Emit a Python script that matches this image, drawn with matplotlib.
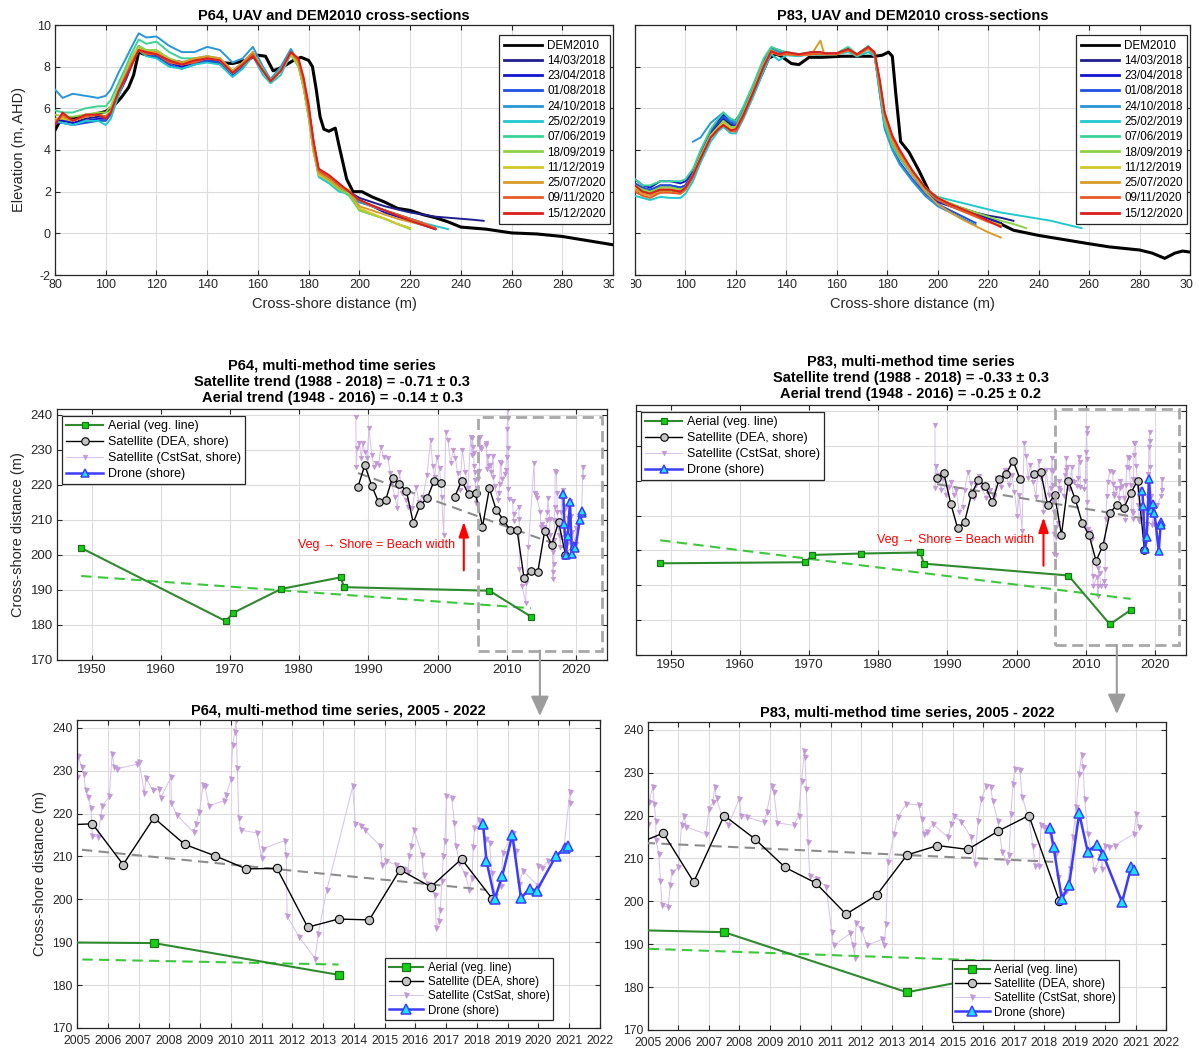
import numpy as np
import matplotlib
matplotlib.use('Agg')
import matplotlib.pyplot as plt
from matplotlib.patches import Rectangle, FancyArrowPatch

plt.rcParams['font.family'] = ['Liberation Sans', 'DejaVu Sans']
plt.rcParams['axes.unicode_minus'] = False

# ======================= DATA =======================
uav_dates = ['14/03/2018', '23/04/2018', '01/08/2018', '24/10/2018', '25/02/2019',
             '07/06/2019', '18/09/2019', '11/12/2019', '25/07/2020', '09/11/2020', '15/12/2020']
uav_colors = ['#1f1f8f', '#1414d2', '#2050e0', '#2896d8', '#20c8d0', '#3cd296',
              '#8cd246', '#d2c828', '#d89b28', '#e85a28', '#dc1e1e']

# ---- P64 profiles ----
p64_dem_x = [80, 82, 85, 90, 95, 100, 103, 106, 109, 111, 113, 115, 120, 125, 130, 140, 150, 155, 160, 163,
             166, 170, 174, 177, 180, 181.5, 183, 184.5, 186, 188, 190.5, 192, 195, 197.5, 201, 205, 210, 215,
             220, 225, 230, 235, 240, 250, 260, 270, 280, 290, 300]
p64_dem_y = [4.95, 5.4, 5.5, 5.6, 5.7, 5.85, 6.1, 6.5, 7.0, 7.6, 8.7, 8.6, 8.45, 8.3, 8.2, 8.25, 8.15, 8.3, 8.55, 8.5,
             7.8, 8.0, 8.3, 8.45, 8.3, 8.0, 6.9, 5.6, 5.0, 4.9, 5.05, 4.2, 2.6, 2.0, 2.0, 1.75, 1.5, 1.2,
             1.1, 0.9, 0.75, 0.55, 0.3, 0.2, 0.02, -0.03, -0.15, -0.35, -0.55]
p64_uav_x = [80, 83, 87, 92, 97, 100, 102, 105, 108, 110, 113, 116, 120, 125, 130, 135, 140, 145, 150, 154,
             158, 162, 165, 169, 173, 176, 178, 180, 182, 184, 188, 192, 196, 200, 205, 210, 215, 220, 225, 230,
             235, 240, 245, 249]
p64_20180314 = [5.5, 5.5, 5.3, 5.5, 5.6, 5.6, 5.9, 6.7, 7.4, 8.0, 8.9, 8.6, 8.5, 8.2, 8.0, 8.2, 8.3, 8.2, 7.7, 8.1,
                8.6, 7.9, 7.3, 7.9, 8.6, 8.2, 7.3, 6.0, 4.3, 3.0, 2.7, 2.3, 2.0, 1.7, 1.5, 1.3, 1.15, 1.0, 0.9, 0.8,
                0.75, 0.7, 0.65, 0.6]
p64_20180423 = [5.4, 5.4, 5.3, 5.4, 5.5, 5.5, 5.8, 6.7, 7.5, 8.2, 9.0, 8.7, 8.5, 8.2, 8.0, 8.2, 8.3, 8.2, 7.6, 8.0,
                8.6, 7.8, 7.3, 7.8, 8.6, 8.1, 7.2, 5.8, 4.1, 2.9, 2.6, 2.2, 1.9, 1.6, 1.3, 1.0, 0.8, 0.6, 0.4, 0.2]
p64_20180801 = [5.3, 5.3, 5.2, 5.3, 5.4, 5.4, 5.7, 6.6, 7.4, 8.1, 8.8, 8.6, 8.5, 8.1, 7.9, 8.1, 8.3, 8.2, 7.6, 8.0,
                8.6, 7.8, 7.3, 7.8, 8.6, 8.1, 7.1, 5.7, 4.0, 2.8, 2.5, 2.1, 1.9, 1.5, 1.3, 1.1, 0.9, 0.7, 0.5]
p64_20181024 = [6.9, 6.5, 6.7, 6.6, 6.5, 6.6, 6.9, 7.7, 8.4, 8.9, 9.6, 9.4, 9.45, 9.0, 8.7, 8.7, 8.95, 8.8, 8.2, 8.4,
                8.95, 8.0, 7.4, 8.0, 8.85, 8.2, 7.2, 5.8, 4.0, 2.8, 2.5, 2.1, 1.9, 1.5, 1.3, 1.1, 0.9, 0.7, 0.5]
p64_20190225 = [5.4, 5.3, 5.2, 5.4, 5.4, 5.2, 5.5, 6.6, 7.6, 8.2, 8.8, 8.5, 8.4, 8.0, 7.9, 8.1, 8.2, 8.1, 7.5, 7.9,
                8.5, 7.6, 7.2, 7.6, 8.6, 8.0, 7.0, 5.6, 3.9, 2.7, 2.4, 2.0, 1.9, 1.6, 1.3, 1.1, 0.9, 0.7, 0.5, 0.35,
                0.2]
p64_20190607 = [5.9, 5.8, 5.8, 6.0, 6.1, 6.1, 6.4, 7.2, 8.0, 8.6, 9.3, 9.1, 9.2, 8.7, 8.4, 8.4, 8.5, 8.4, 7.8, 8.2,
                8.7, 7.9, 7.3, 7.9, 8.6, 8.1, 7.0, 5.6, 3.9, 2.8, 2.5, 2.1, 1.8, 1.1, 0.9, 0.7, 0.45, 0.25]
p64_20190918 = [5.7, 5.6, 5.6, 5.7, 5.8, 5.8, 6.1, 7.0, 7.8, 8.4, 9.0, 8.8, 8.8, 8.4, 8.2, 8.3, 8.5, 8.3, 7.7, 8.1,
                8.6, 7.8, 7.3, 7.8, 8.6, 8.0, 7.0, 5.6, 3.9, 2.8, 2.5, 2.1, 1.9, 1.1, 0.9, 0.7, 0.45, 0.2]
p64_20191211 = [5.5, 5.5, 5.4, 5.6, 5.7, 5.6, 5.9, 6.9, 7.7, 8.3, 8.9, 8.7, 8.7, 8.3, 8.1, 8.3, 8.5, 8.3, 7.7, 8.1,
                8.7, 7.8, 7.3, 7.8, 8.7, 8.1, 7.1, 5.7, 3.9, 2.8, 2.6, 2.2, 2.1, 1.2, 0.95, 0.7, 0.45, 0.25]
p64_20200725 = [5.4, 5.6, 5.4, 5.6, 5.7, 5.6, 5.8, 6.8, 7.6, 8.2, 8.8, 8.7, 8.7, 8.3, 8.2, 8.4, 8.5, 8.4, 7.8, 8.2,
                8.7, 7.8, 7.3, 7.8, 8.7, 8.2, 7.2, 5.8, 4.0, 2.9, 2.6, 2.2, 2.0, 1.3, 1.1, 0.9, 0.7, 0.55, 0.4]
p64_20201109 = [5.3, 5.7, 5.4, 5.6, 5.7, 5.6, 5.8, 6.8, 7.6, 8.1, 8.8, 8.6, 8.6, 8.2, 8.1, 8.2, 8.4, 8.3, 7.7, 8.1,
                8.6, 7.8, 7.3, 7.8, 8.7, 8.3, 7.4, 6.0, 4.3, 3.0, 2.7, 2.3, 2.0, 1.6, 1.3, 1.1, 0.9, 0.7, 0.5, 0.25]
p64_20201215 = [5.2, 5.8, 5.4, 5.7, 5.7, 5.5, 5.8, 6.8, 7.5, 8.0, 8.8, 8.7, 8.6, 8.3, 8.1, 8.3, 8.4, 8.3, 7.7, 8.1,
                8.5, 7.8, 7.3, 7.8, 8.7, 8.4, 7.5, 6.2, 4.4, 3.1, 2.8, 2.4, 2.0, 1.6, 1.35, 1.1, 0.85, 0.6, 0.4, 0.2]

# ---- P83 profiles ----
p83_dem_x = [80, 84, 90, 98.5, 101, 106, 110, 114, 118, 120, 125, 129, 133, 136, 138, 142, 145, 149, 154, 162,
             170, 175, 178, 180.5, 182, 183.3, 185.3, 188.6, 192.6, 196.6, 199.2, 205, 210, 220, 230, 240, 250,
             260, 268, 280, 285, 290, 294, 297, 300]
p83_dem_y = [2.15, 2.0, 2.05, 2.0, 2.4, 3.6, 4.9, 5.35, 5.3, 5.4, 6.2, 7.3, 8.4, 8.6, 8.5, 8.15, 8.1, 8.45, 8.45, 8.5,
             8.5, 8.5, 8.55, 8.7, 8.5, 6.8, 4.4, 3.9, 3.0, 2.0, 1.6, 1.35, 1.15, 0.75, 0.15, -0.1, -0.3,
             -0.5, -0.65, -0.8, -0.95, -1.2, -0.95, -0.85, -0.9]
p83_uav_x = [80, 83, 86, 90, 94, 98, 100, 103, 106, 110, 113, 115, 118, 120, 123, 127, 131, 134, 137, 140,
             145, 150, 153.5, 155, 160, 164.5, 168, 172.5, 175, 177, 179, 182, 185, 190, 195, 200, 205, 210, 215,
             220, 225, 230, 235, 240, 245, 250, 257]
p83_20180314 = [2.4, 2.1, 2.0, 2.3, 2.3, 2.2, 2.3, 2.9, 3.8, 4.8, 5.2, 5.5, 5.2, 5.2, 5.9, 7.0, 8.2, 8.8, 8.7, 8.6,
                8.55, 8.65, 8.6, 8.6, 8.6, 8.8, 8.55, 8.9, 8.6, 7.0, 5.4, 4.4, 3.8, 2.9, 2.2, 1.6, 1.4, 1.2, 1.0,
                0.85, 0.75, 0.6]
p83_20180423 = [2.6, 2.3, 2.2, 2.5, 2.5, 2.4, 2.5, 3.0, 3.9, 4.9, 5.4, 5.7, 5.4, 5.3, 5.9, 7.1, 8.3, 8.9, 8.8, 8.6,
                8.55, 8.65, 8.6, 8.6, 8.6, 8.85, 8.55, 8.9, 8.6, 6.9, 5.3, 4.3, 3.7, 2.8, 2.0, 1.5, 1.3, 1.1, 0.9,
                0.7, 0.5]
p83_20180801 = [2.4, 2.2, 2.1, 2.3, 2.3, 2.2, 2.3, 2.9, 3.8, 4.9, 5.3, 5.6, 5.3, 5.2, 5.9, 7.0, 8.2, 8.85, 8.7, 8.6,
                8.55, 8.6, 8.6, 8.6, 8.6, 8.8, 8.5, 8.9, 8.6, 6.8, 5.1, 4.1, 3.4, 2.6, 1.9, 1.4, 1.1, 0.8, 0.5]
p83_20181024 = [np.nan, np.nan, np.nan, np.nan, np.nan, np.nan, np.nan, 4.4, 4.6, 5.3, 5.6, 5.8, 5.4, 5.3, 5.9, 7.0,
                8.2, 8.85, 8.7, 8.6, 8.55, 8.6, 8.6, 8.6, 8.6, 8.8, 8.5, 8.85, 8.5, 6.7, 5.0, 4.0, 3.3, 2.5, 1.8,
                1.3, 1.0, 0.7, 0.4]
p83_20190225 = [1.8, 1.7, 1.6, 1.75, 1.7, 1.7, 1.9, 2.5, 3.4, 4.4, 4.9, 5.1, 4.8, 4.8, 5.5, 6.6, 7.8, 8.6, 8.3, 8.55,
                8.5, 8.6, 8.55, 8.6, 8.6, 8.7, 8.5, 8.7, 8.5, 7.0, 5.2, 4.2, 3.6, 2.8, 2.1, 1.75, 1.6, 1.45, 1.3,
                1.15, 1.0, 0.9, 0.8, 0.7, 0.6, 0.45, 0.25]
p83_20190607 = [2.6, 2.3, 2.3, 2.5, 2.5, 2.5, 2.6, 3.1, 4.0, 5.0, 5.5, 5.8, 5.5, 5.4, 6.1, 7.2, 8.4, 8.95, 8.8, 8.7,
                8.6, 8.7, 8.7, 8.65, 8.65, 8.95, 8.6, 9.0, 8.6, 6.9, 5.3, 4.2, 3.6, 2.8, 2.1, 1.6, 1.35, 1.1, 0.85,
                0.6]
p83_20190918 = [2.3, 2.1, 2.0, 2.2, 2.2, 2.1, 2.2, 2.8, 3.7, 4.7, 5.1, 5.4, 5.1, 5.1, 5.8, 6.9, 8.1, 8.8, 8.6, 8.6,
                8.55, 8.6, 8.6, 8.6, 8.6, 8.8, 8.55, 8.9, 8.6, 7.1, 5.5, 4.4, 3.8, 2.9, 2.2, 1.7, 1.45, 1.2, 1.0,
                0.8, 0.6, 0.45, 0.25]
p83_20191211 = [2.2, 2.0, 1.9, 2.1, 2.1, 2.0, 2.2, 2.8, 3.7, 4.7, 5.1, 5.3, 5.0, 5.0, 5.7, 6.9, 8.1, 8.75, 8.6, 8.6,
                8.55, 8.6, 8.6, 8.6, 8.6, 8.8, 8.55, 8.85, 8.6, 7.2, 5.6, 4.5, 3.9, 3.0, 2.2, 1.7, 1.4, 1.1, 0.85,
                0.6, 0.4]
p83_20200725 = [2.1, 1.9, 1.8, 2.0, 2.0, 1.9, 2.1, 2.7, 3.6, 4.6, 5.0, 5.2, 4.9, 4.9, 5.7, 6.9, 8.1, 8.75, 8.6, 8.6,
                8.55, 8.6, 9.25, 8.6, 8.6, 8.8, 8.55, 8.9, 8.6, 7.2, 5.6, 4.4, 3.7, 2.8, 2.0, 1.4, 1.0, 0.65, 0.35,
                0.05, -0.2]
p83_20201109 = [2.0, 1.8, 1.7, 1.95, 1.95, 1.9, 2.1, 2.7, 3.6, 4.6, 5.0, 5.2, 4.9, 4.9, 5.6, 6.8, 8.0, 8.7, 8.55, 8.6,
                8.55, 8.6, 8.6, 8.6, 8.6, 8.8, 8.55, 8.9, 8.6, 7.3, 5.7, 4.6, 3.9, 3.0, 2.2, 1.6, 1.3, 1.05, 0.8,
                0.55, 0.35]
p83_20201215 = [2.3, 2.0, 1.9, 2.1, 2.1, 2.0, 2.2, 2.8, 3.6, 4.6, 5.0, 5.2, 4.95, 5.0, 5.7, 6.8, 8.0, 8.75, 8.6, 8.7,
                8.6, 8.7, 8.7, 8.65, 8.65, 8.85, 8.6, 8.95, 8.7, 7.4, 5.8, 4.7, 4.0, 3.0, 2.2, 1.7, 1.4, 1.15, 0.9,
                0.6, 0.3]

p64_uav = [p64_20180314, p64_20180423, p64_20180801, p64_20181024, p64_20190225, p64_20190607,
           p64_20190918, p64_20191211, p64_20200725, p64_20201109, p64_20201215]
p83_uav = [p83_20180314, p83_20180423, p83_20180801, p83_20181024, p83_20190225, p83_20190607,
           p83_20190918, p83_20191211, p83_20200725, p83_20201109, p83_20201215]

# ---- time series: aerial (vegetation line) ----
p64_aerial_yr = [1948.5, 1969.4, 1970.5, 1977.4, 1986.0, 1986.5, 2007.5, 2013.5]
p64_aerial = [202.0, 181.1, 183.5, 190.3, 193.6, 190.8, 189.8, 182.4]
p83_aerial_yr = [1948.5, 1969.5, 1970.5, 1977.5, 1986.1, 1986.6, 2007.5, 2013.5, 2016.5]
p83_aerial = [196.3, 196.6, 198.7, 199.1, 199.4, 196.2, 192.8, 178.8, 182.9]
p64_aerial_trend_yr = [1948.5, 2013.5]
p64_aerial_trend = [194.0, 184.8]
p83_aerial_trend_yr = [1948.5, 2016.5]
p83_aerial_trend = [202.9, 186.1]

# ---- satellite DEA (annual shoreline) ----
dea_yr = [1988.5, 1989.5, 1990.5, 1991.5, 1992.5, 1993.5, 1994.5, 1995.5, 1996.5, 1997.5, 1998.5, 1999.5,
          2000.5, 2001.5, 2002.5, 2003.5, 2004.5, 2005.5, 2006.5, 2007.5, 2008.5, 2009.5, 2010.5, 2011.5,
          2012.5, 2013.5, 2014.5, 2015.5, 2016.5, 2017.5, 2018.5]
p64_dea = [219.5, 225.7, 219.7, 215.0, 215.7, 222.1, 220.3, 218.3, 209.2, 214.3, 216.2, 221.1,
           220.7, np.nan, 216.7, 221.2, 217.3, 217.6, 208.1, 219.0, 212.8, 210.1, 207.1, 207.2,
           193.5, 195.4, 195.2, 206.9, 202.9, 209.4, 200.1]
p83_dea = [220.8, 222.1, 213.4, 206.3, 208.2, 216.2, 220.2, 218.5, 213.8, 220.4, 221.9, 225.7,
           220.5, np.nan, 221.8, 222.5, 213.0, 215.9, 204.5, 220.0, 214.6, 207.9, 204.3, 197.0,
           201.4, 210.8, 213.0, 212.1, 216.4, 220.0, 200.1]
sat_trend_yr = [1988.5, 2018.3]
p64_sat_trend = [223.4, 202.2]
p83_sat_trend = [219.0, 209.2]

# ---- satellite CoastSat (individual images) ----
p64_cst_yr = [1988.2, 1988.25, 1988.4, 1988.7, 1989.0, 1989.2, 1989.5, 1989.8, 1990.1, 1990.5, 1990.8, 1991.1,
              1991.5, 1991.8, 1992.2, 1992.8, 1993.2, 1993.4, 1993.8, 1994.2, 1994.5, 1994.9, 1995.4, 1995.8,
              1996.3, 1996.9, 1997.3, 1997.9, 1998.5, 1999.0, 1999.3, 1999.6, 1999.9, 2000.3, 2000.6, 2000.9,
              2001.2, 2001.5, 2001.9, 2002.3, 2002.6, 2002.9, 2003.2, 2003.6, 2004.0, 2004.4, 2004.8,
              2005.0, 2005.04, 2005.15, 2005.22, 2005.28, 2005.37, 2005.45, 2005.5, 2005.67, 2005.77, 2005.82,
              2006.05, 2006.14, 2006.21, 2006.29, 2006.96, 2007.02, 2007.19, 2007.24, 2007.47, 2007.66, 2007.72,
              2008.05, 2008.07, 2008.24, 2008.79, 2008.87, 2008.98, 2009.1, 2009.16, 2009.29, 2009.78, 2009.85,
              2010.01, 2010.06, 2010.13, 2010.17, 2010.21, 2010.26, 2010.32, 2010.85, 2011.0, 2011.04, 2011.75,
              2011.8, 2011.83, 2012.23, 2012.74, 2012.84, 2013.12, 2013.96, 2014.05, 2014.22, 2014.35, 2014.86,
              2014.92, 2015.05, 2015.37, 2015.63, 2015.76, 2015.8, 2015.86, 2015.96, 2016.21, 2016.27, 2016.42,
              2016.63, 2016.68, 2016.76, 2016.81, 2016.86, 2016.91, 2016.96, 2017.01, 2017.18, 2017.27, 2017.32,
              2017.43, 2017.62, 2017.75, 2017.84, 2017.88, 2017.92, 2018.07, 2018.3, 2018.41, 2018.48, 2018.59,
              2018.78, 2018.84, 2019.17, 2019.27, 2019.36, 2019.5, 2019.98, 2020.0, 2020.1, 2020.32, 2020.58,
              2020.83, 2021.02, 2021.04]
p64_cst = [239.3, 225.2, 230.5, 231.9, 227.6, 231.9, 229.5, 227.6, 236.2, 228.6, 225.2, 226.2,
           225.7, 230.8, 228.1, 227.6, 223.5, 220.5, 216.7, 213.3, 223.8, 217.6, 215.7, 213.8,
           213.3, 219.5, 215.2, 216.7, 222.9, 232.9, 225.4, 222.4, 228.1, 224.8, 216.7, 205.7,
           235.2, 232.9, 226.2, 230.0, 227.6, 223.3, 218.6, 230.0, 223.8, 219.0, 233.8,
           228.6, 233.4, 230.9, 229.2, 225.4, 223.8, 221.4, 214.8, 214.5, 219.2, 221.7,
           224.0, 233.8, 230.9, 230.4, 231.5, 232.1, 224.7, 228.2, 225.4, 225.7, 223.6,
           228.4, 222.4, 219.7, 215.6, 217.6, 220.4, 226.6, 226.3, 221.8, 223.0, 224.4,
           228.0, 236.0, 239.1, 241.8, 230.5, 218.9, 216.1, 215.5, 209.7, 211.8, 213.7,
           210.4, 196.1, 191.1, 186.2, 191.9, 202.2, 226.3, 217.6, 217.2, 216.2, 212.4,
           208.1, 208.9, 208.1, 207.0, 206.3, 210.1, 212.4, 216.2, 210.3, 205.6, 203.5,
           200.9, 193.2, 195.0, 197.5, 204.3, 210.1, 213.7, 224.0, 223.6, 217.8, 212.4,
           208.5, 205.8, 202.2, 205.0, 212.2, 216.6, 218.6, 214.0, 213.1, 206.2, 200.8,
           203.1, 210.7, 215.5, 211.2, 203.5, 206.6, 203.2, 207.7, 207.3, 208.9, 210.2,
           212.0, 225.1, 222.4]
p83_cst_yr = [1988.2, 1988.25, 1988.4, 1988.7, 1989.1, 1989.4, 1989.8, 1990.2, 1990.6, 1990.9, 1991.3, 1991.7,
              1992.2, 1992.5, 1993.0, 1993.4, 1993.8, 1994.2, 1994.6, 1995.0, 1995.6, 1996.1, 1996.7, 1997.2,
              1997.8, 1998.3, 1998.9, 1999.3, 1999.7, 2000.1, 2000.4, 2000.8, 2001.1, 2001.4, 2001.7, 2002.0,
              2002.4, 2002.8, 2003.2, 2003.6, 2003.9, 2004.3, 2004.7,
              2005.0, 2005.04, 2005.15, 2005.21, 2005.25, 2005.27, 2005.35, 2005.41, 2005.46, 2005.66, 2005.73,
              2005.78, 2006.0, 2006.1, 2006.19, 2006.25, 2006.9, 2007.0, 2007.13, 2007.19, 2007.25, 2007.44,
              2007.63, 2008.0, 2008.06, 2008.25, 2008.81, 2008.9, 2009.06, 2009.13, 2009.25, 2009.78, 2009.94,
              2010.04, 2010.13, 2010.15, 2010.2, 2010.25, 2010.31, 2010.56, 2010.85, 2011.03, 2011.09, 2011.63,
              2011.73, 2011.78, 2011.83, 2012.0, 2012.19, 2012.69, 2012.75, 2012.81, 2012.88, 2013.08, 2013.19,
              2013.48, 2013.88, 2013.98, 2014.06, 2014.15, 2014.35, 2014.85, 2014.94, 2015.03, 2015.28, 2015.6,
              2015.73, 2015.83, 2015.94, 2016.1, 2016.25, 2016.31, 2016.48, 2016.63, 2016.78, 2016.85, 2016.91,
              2016.98, 2017.04, 2017.2, 2017.28, 2017.5, 2017.63, 2017.71, 2017.84, 2017.9, 2017.98, 2018.15,
              2018.35, 2018.46, 2018.6, 2018.73, 2018.84, 2018.94, 2019.06, 2019.15, 2019.23, 2019.28, 2019.33,
              2019.44, 2019.65, 2019.85, 2019.9, 2020.0, 2020.13, 2020.31, 2020.94, 2021.03, 2021.1]
p83_cst = [235.9, 217.8, 224.1, 221.6, 217.3, 220.7, 215.8, 218.3, 219.7, 215.8, 217.3, 211.0,
           212.5, 217.3, 222.6, 219.2, 215.1, 218.7, 221.2, 217.8, 215.1, 217.3, 215.4, 220.7,
           218.3, 223.1, 218.7, 221.6, 216.8, 210.0, 215.8, 205.7, 230.8, 227.0, 220.7, 224.5,
           219.7, 215.4, 225.5, 220.7, 211.0, 223.1, 215.8,
           218.0, 223.1, 226.6, 222.7, 218.8, 214.2, 211.0, 204.8, 199.1, 198.6, 203.7,
           206.8, 207.9, 217.8, 219.8, 217.3, 215.7, 221.5, 223.1, 226.6, 224.0, 219.6,
           217.7, 223.9, 220.0, 219.6, 218.4, 220.8, 226.8, 225.4, 218.3, 217.7, 220.0,
           228.1, 235.1, 233.6, 226.2, 213.8, 206.0, 205.2, 203.3, 192.8, 189.7, 192.5,
           189.7, 186.9, 195.0, 193.5, 189.7, 191.2, 189.7, 194.7, 209.1, 215.7, 219.6,
           222.7, 222.5, 219.1, 215.7, 216.1, 218.0, 214.9, 218.0, 219.8, 218.6, 214.9,
           208.7, 218.8, 223.9, 226.8, 226.6, 223.5, 218.8, 211.4, 209.1, 210.7, 220.4,
           227.4, 230.9, 230.7, 224.3, 219.2, 213.0, 208.3, 208.3, 217.7, 217.3, 216.5,
           210.7, 205.6, 201.7, 202.5, 207.5, 214.9, 221.9, 229.7, 234.0, 231.3, 223.9,
           215.7, 207.2, 210.3, 207.5, 213.0, 212.6, 213.0, 215.7, 220.4, 217.4]

# ---- drone (UAV shoreline) ----
drone_yr = [2018.20, 2018.31, 2018.58, 2018.82, 2019.15, 2019.43, 2019.72, 2019.94, 2020.56, 2020.86, 2020.95]
p64_drone = [217.5, 208.9, 200.1, 205.4, 215.0, 200.3, 202.5, 202.0, 210.0, 212.0, 212.5]
p83_drone = [217.0, 212.7, 200.5, 203.8, 220.5, 211.6, 213.2, 210.8, 199.8, 208.1, 207.3]

# zoom window of the lower panels
zoom_years = [2005, 2022]

# ======================= FIGURE =======================
W, H = 1199, 1052
fig = plt.figure(figsize=(W / 100, H / 100), dpi=100)


def px_axes(l, t, r, b):
    return fig.add_axes([l / W, (H - b) / H, (r - l) / W, (b - t) / H])


SPINE = '#262626'


def style(ax, labelsize=9, xpad=3):
    for s in ax.spines.values():
        s.set_color(SPINE)
        s.set_linewidth(0.9)
    ax.tick_params(direction='in', top=True, right=True, length=3.5, width=0.8,
                   labelsize=labelsize, colors=SPINE, pad=3)
    ax.tick_params(axis='x', pad=xpad)
    ax.grid(True, color='#dcdcdc', lw=0.8)
    ax.set_axisbelow(True)


TITLE_FS = 10.5

# ---------------- top: cross-sections ----------------
def profile_panel(ax, dem_x, dem_y, uav_x, uav_list, title, ylabels=True):
    ax.plot(dem_x, dem_y, color='k', lw=2.2, label='DEM2010', zorder=2)
    for vals, c, lab in zip(uav_list, uav_colors, uav_dates):
        ax.plot(uav_x[:len(vals)], vals, color=c, lw=1.4, label=lab, zorder=3)
    ax.set_xlim(80, 300)
    ax.set_ylim(-2, 10)
    ax.set_xticks(np.arange(80, 301, 20))
    ax.set_yticks(np.arange(-2, 11, 2))
    style(ax)
    ax.set_title(title, fontsize=TITLE_FS, fontweight='bold', pad=4)
    ax.set_xlabel('Cross-shore distance (m)', fontsize=10.5, color=SPINE, labelpad=4)
    if ylabels:
        ax.set_ylabel('Elevation (m, AHD)', fontsize=10.5, color=SPINE, labelpad=8)
    else:
        ax.set_yticklabels([])
    leg = ax.legend(loc='upper right', bbox_to_anchor=(0.995, 0.96), fontsize=8.4, frameon=True,
                    fancybox=False, framealpha=1, edgecolor=SPINE, handlelength=3.3,
                    labelspacing=0.28, borderpad=0.4, handletextpad=0.4, borderaxespad=0)
    leg.get_frame().set_linewidth(0.9)
    for ln in leg.get_lines():
        ln.set_linewidth(2.0)


ax1 = px_axes(55, 25, 613, 275)
profile_panel(ax1, p64_dem_x, p64_dem_y, p64_uav_x, p64_uav, 'P64, UAV and DEM2010 cross-sections')
ax2 = px_axes(635, 25, 1190, 275)
profile_panel(ax2, p83_dem_x, p83_dem_y, p83_uav_x, p83_uav, 'P83, UAV and DEM2010 cross-sections',
              ylabels=False)

# ---------------- time series ----------------
AER_LINE = '#2f8a2f'
AER_FACE = '#11d411'
AER_TREND = '#3cc83c'
CST_LINE = '#d8c0e8'
CST_MARK = '#c398d8'
DRONE_LINE = '#3c3cff'
DRONE_FACE = '#18e6ff'


def series_panel(ax, aer_yr, aer, aer_tr_yr, aer_tr, dea, sat_tr, cst_yr, cst, drone, ms_scale=1.0):
    ax.plot(cst_yr, cst, color=CST_LINE, lw=0.7, marker='v', ms=3.6 * ms_scale, mfc=CST_MARK,
            mec=CST_MARK, mew=0.5, label='Satellite (CstSat, shore)', zorder=2)
    ax.plot(aer_tr_yr, aer_tr, color=AER_TREND, lw=1.5, ls=(0, (5, 3)), zorder=3)
    ax.plot(sat_trend_yr, sat_tr, color='#8c8c8c', lw=1.5, ls=(0, (5, 3)), zorder=3)
    ax.plot(aer_yr, aer, color=AER_LINE, lw=1.5, marker='s', ms=5.5 * ms_scale, mfc=AER_FACE,
            mec='#1f6f1f', mew=0.9, label='Aerial (veg. line)', zorder=4)
    ax.plot(dea_yr, dea, color='k', lw=1.0, marker='o', ms=6 * ms_scale, mfc='#c4c4c4', mec='k',
            mew=0.8, label='Satellite (DEA, shore)', zorder=4)
    ax.plot(drone_yr, drone, color=DRONE_LINE, lw=1.8, marker='^', ms=7 * ms_scale, mfc=DRONE_FACE,
            mec=DRONE_LINE, mew=1.1, label='Drone (shore)', zorder=5)


def series_legend(ax, **kw):
    h, l = ax.get_legend_handles_labels()
    order = ['Aerial (veg. line)', 'Satellite (DEA, shore)', 'Satellite (CstSat, shore)', 'Drone (shore)']
    hh = [h[l.index(o)] for o in order]
    leg = ax.legend(hh, order, frameon=True, fancybox=False, framealpha=1, edgecolor=SPINE,
                    borderaxespad=0, handletextpad=0.4, **kw)
    leg.get_frame().set_linewidth(0.9)
    leg.set_zorder(10)
    return leg


def mid_panel(ax, title, ylabels, aer_yr, aer, aer_tr_yr, aer_tr, dea, sat_tr, cst_yr, cst, drone,
              box, arrow_x):
    series_panel(ax, aer_yr, aer, aer_tr_yr, aer_tr, dea, sat_tr, cst_yr, cst, drone, ms_scale=0.9)
    ax.set_xlim(1945, 2024.5)
    ax.set_ylim(170, 241.7)
    ax.set_xticks(np.arange(1950, 2021, 10))
    ax.set_yticks(np.arange(170, 241, 10))
    style(ax, labelsize=9.5)
    ax.set_title(title, fontsize=TITLE_FS, fontweight='bold', pad=5, linespacing=1.22)
    if ylabels:
        ax.set_ylabel('Cross-shore distance (m)', fontsize=10.5, color=SPINE, labelpad=4)
    else:
        ax.set_yticklabels([])
    ax.add_patch(Rectangle((box[0], box[1]), box[2], box[3], fill=False, edgecolor='#a8a8a8', lw=2.0,
                           ls=(0, (4, 2)), zorder=6, clip_on=False))
    ax.annotate('', xy=(arrow_x, 209.5), xytext=(arrow_x, 195.6),
                arrowprops=dict(arrowstyle='-|>,head_length=0.9,head_width=0.3', color='red', lw=1.5,
                                mutation_scale=10, shrinkA=0, shrinkB=0), zorder=7)
    ax.text(arrow_x - 1.3, 202.9, 'Veg \u2192 Shore = Beach width', color='red', fontsize=9,
            ha='right', va='center', zorder=7)
    series_legend(ax, loc='upper left', bbox_to_anchor=(0.009, 0.972), fontsize=9, handlelength=3.0,
                  labelspacing=0.33, borderpad=0.32)


ax3 = px_axes(57, 409, 607, 660)
mid_panel(ax3, 'P64, multi-method time series\nSatellite trend (1988 - 2018) = -0.71 \u00b1 0.3\n'
               'Aerial trend (1948 - 2016) = -0.14 \u00b1 0.3', True,
          p64_aerial_yr, p64_aerial, p64_aerial_trend_yr, p64_aerial_trend, p64_dea, p64_sat_trend,
          p64_cst_yr, p64_cst, p64_drone, (2005.8, 172.7, 18.0, 66.8), 2003.8)
ax4 = px_axes(636, 405, 1186, 655)
mid_panel(ax4, 'P83, multi-method time series\nSatellite trend (1988 - 2018) = -0.33 \u00b1 0.3\n'
               'Aerial trend (1948 - 2016) = -0.25 \u00b1 0.2', False,
          p83_aerial_yr, p83_aerial, p83_aerial_trend_yr, p83_aerial_trend, p83_dea, p83_sat_trend,
          p83_cst_yr, p83_cst, p83_drone, (2005.5, 172.9, 18.0, 67.6), 2003.9)


def low_panel(ax, title, ylabels, aer_yr, aer, aer_tr_yr, aer_tr, dea, sat_tr, cst_yr, cst, drone):
    series_panel(ax, aer_yr, aer, aer_tr_yr, aer_tr, dea, sat_tr, cst_yr, cst, drone, ms_scale=1.0)
    ax.set_xlim(zoom_years[0], zoom_years[1])
    ax.set_ylim(170, 241.8)
    ax.set_xticks(np.arange(zoom_years[0], zoom_years[1] + 1, 1))
    ax.set_yticks(np.arange(170, 241, 10))
    style(ax, labelsize=8.8, xpad=5)
    ax.set_title(title, fontsize=TITLE_FS, fontweight='bold', pad=4)
    if ylabels:
        ax.set_ylabel('Cross-shore distance (m)', fontsize=10.5, color=SPINE, labelpad=4)
    series_legend(ax, loc='lower right', bbox_to_anchor=(0.91, 0.026), fontsize=8.3, handlelength=3.0,
                  labelspacing=0.2, borderpad=0.3)


ax5 = px_axes(77, 720, 600, 1028)
low_panel(ax5, 'P64, multi-method time series, 2005 - 2022', True,
          p64_aerial_yr, p64_aerial, p64_aerial_trend_yr, p64_aerial_trend, p64_dea, p64_sat_trend,
          p64_cst_yr, p64_cst, p64_drone)
ax6 = px_axes(648, 722, 1166, 1030)
low_panel(ax6, 'P83, multi-method time series, 2005 - 2022', False,
          p83_aerial_yr, p83_aerial, p83_aerial_trend_yr, p83_aerial_trend, p83_dea, p83_sat_trend,
          p83_cst_yr, p83_cst, p83_drone)

# ---------------- connecting arrows (zoom boxes -> lower panels) ----------------
inv = fig.transFigure.inverted()


def drop_arrow(ax_from, x, y, tip_px):
    fx, fy = inv.transform(ax_from.transData.transform((x, y)))
    arr = FancyArrowPatch((fx, fy), (fx, (H - tip_px) / H), transform=fig.transFigure,
                          arrowstyle='-|>,head_length=1.1,head_width=0.5', mutation_scale=11,
                          color='#9c9c9c', lw=1.5, shrinkA=0, shrinkB=0, zorder=20)
    fig.add_artist(arr)


drop_arrow(ax3, 2005.8 + 9.0, 172.7, 716)
drop_arrow(ax4, 2005.5 + 9.0, 172.9, 714)

# clip the tick labels at the panel seams, as in the composite original
for x0, x1 in [(614, 631), (1193, 1199)]:
    fig.add_artist(Rectangle((x0 / W, (H - 303) / H), (x1 - x0) / W, 24 / H, transform=fig.transFigure,
                             facecolor='white', edgecolor='none', zorder=30))

fig.savefig('out.png', dpi=100)
